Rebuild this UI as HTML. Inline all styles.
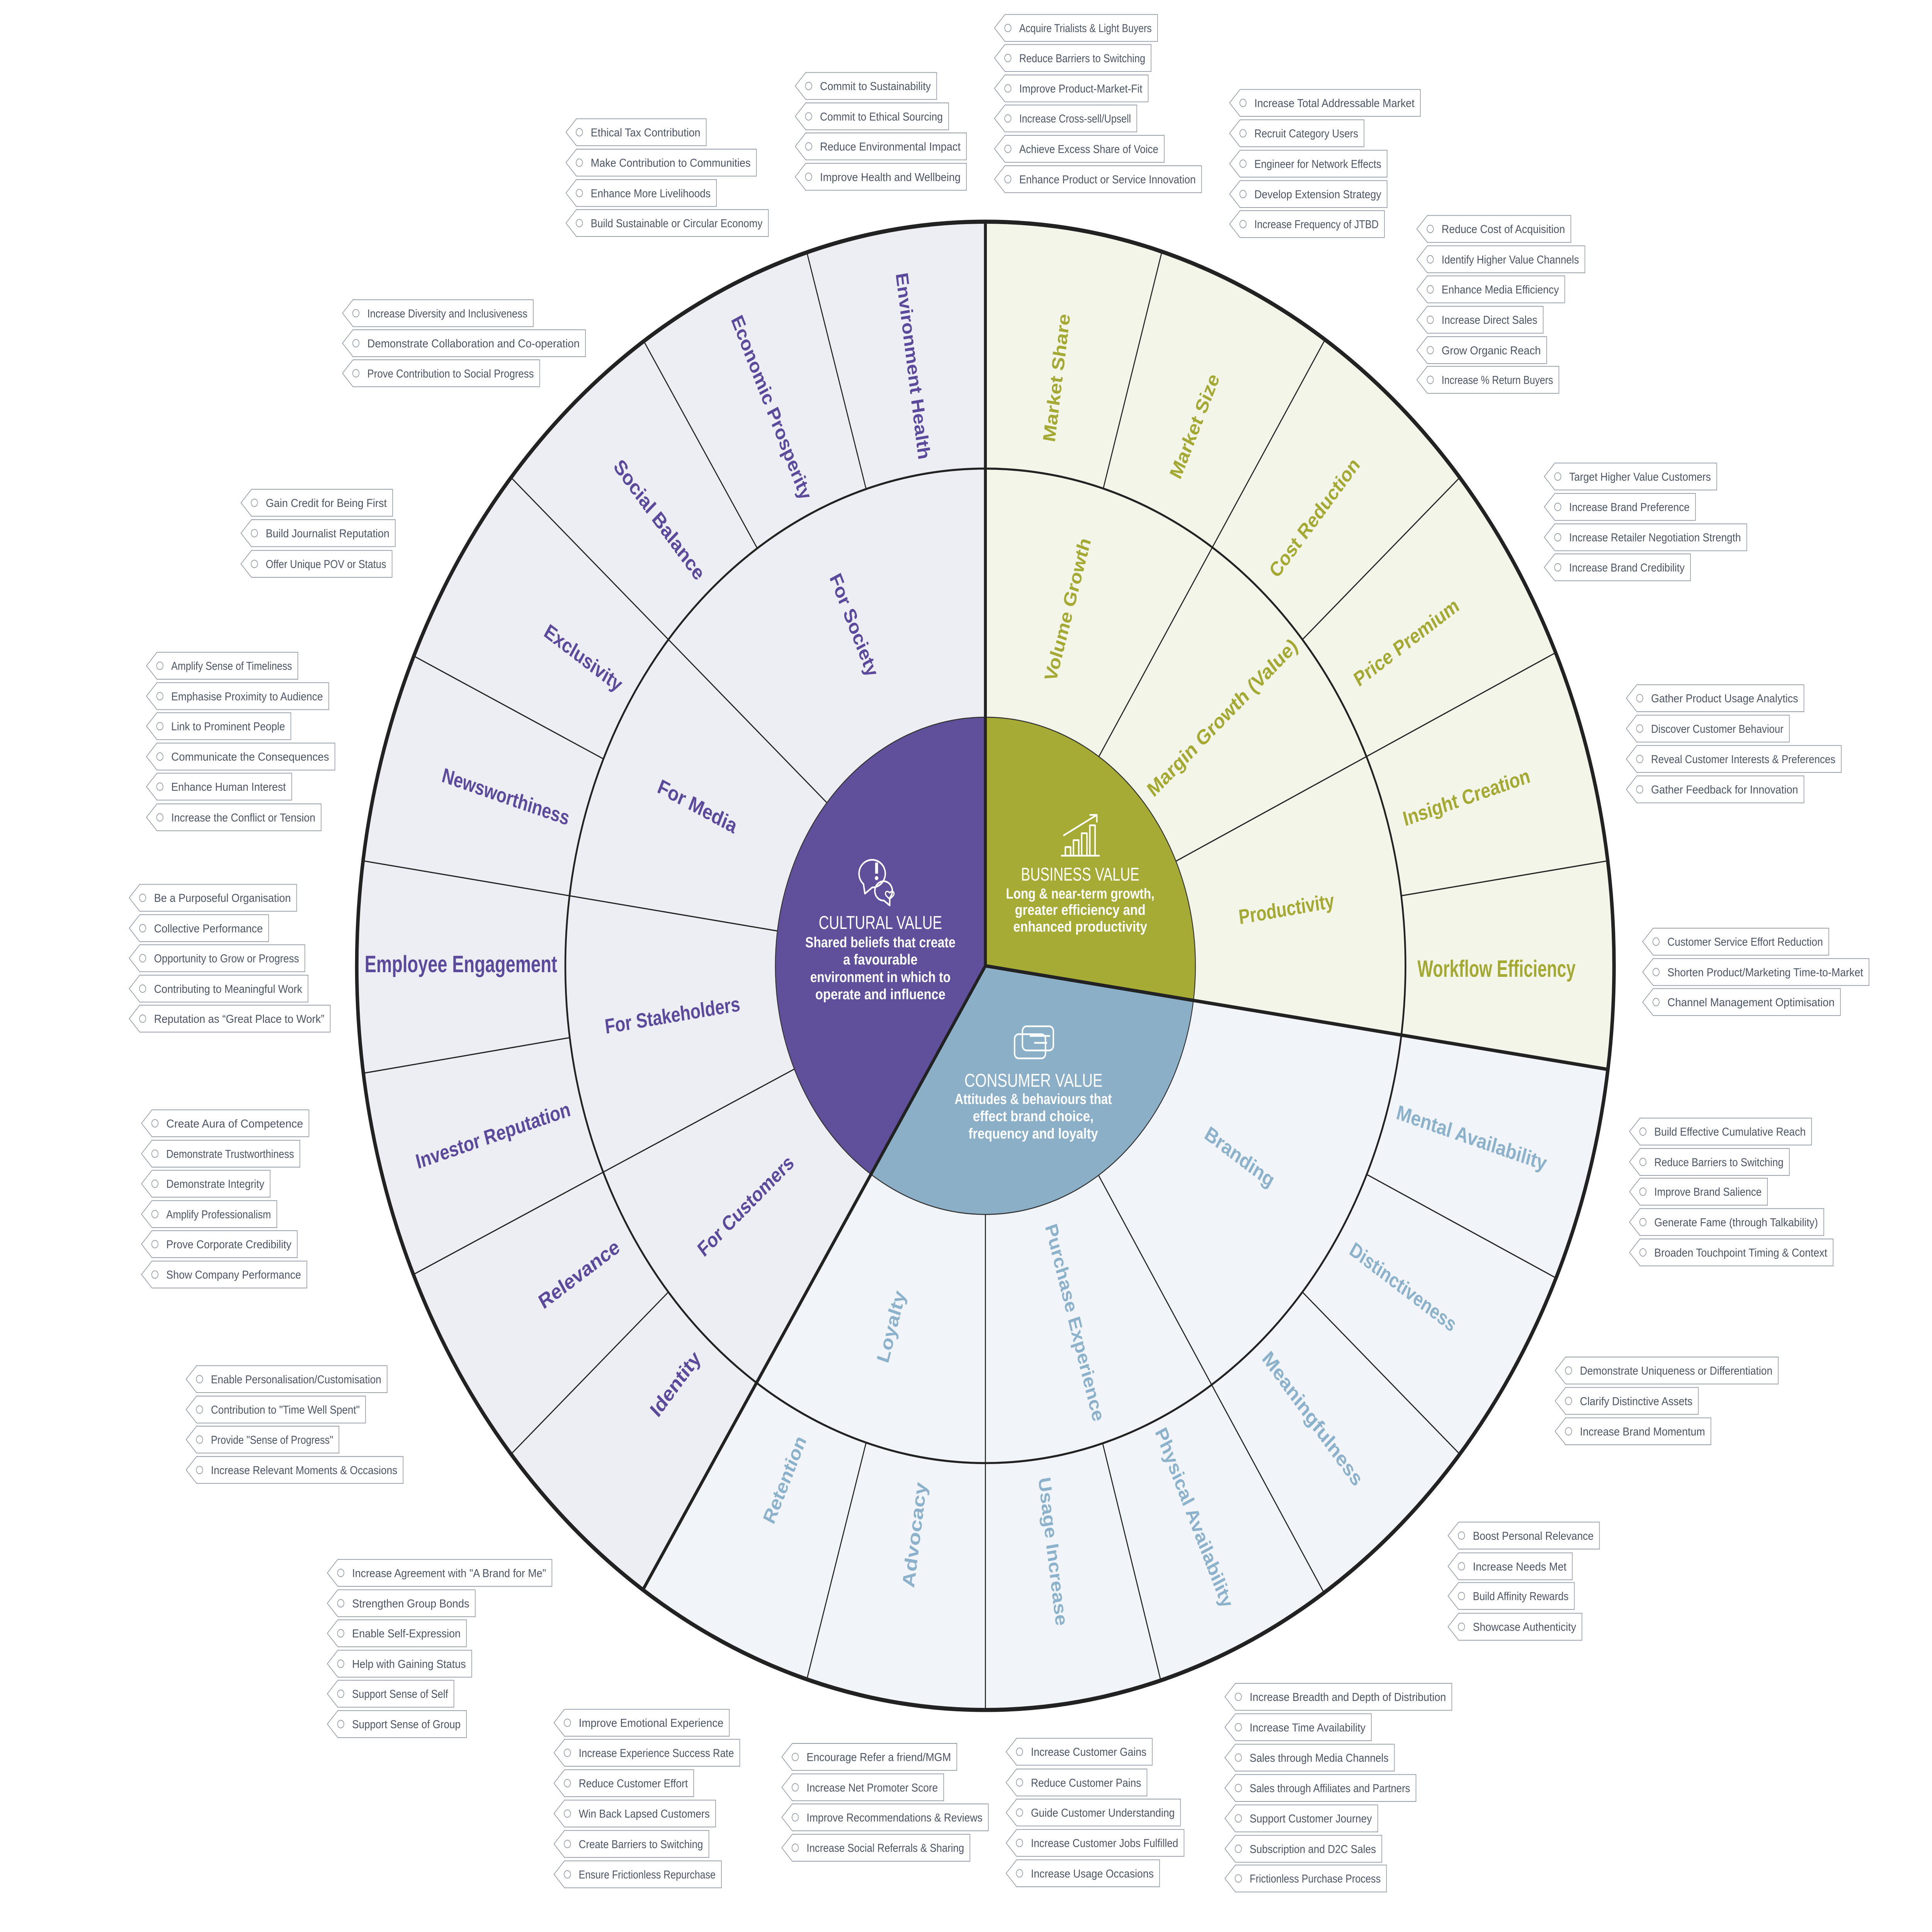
<!DOCTYPE html>
<html><head><meta charset="utf-8"><style>
html,body{margin:0;padding:0;background:#fff;overflow:hidden;width:100vw;height:100vh}
svg{display:block;position:fixed;left:0;top:0;width:100vw;height:100vh}
.t{font-family:"Liberation Sans",sans-serif;font-size:33px;fill:#4b5565}
.tg path{fill:#fff;stroke:#8a93a0;stroke-width:2}
.tg circle{fill:none;stroke:#8a93a0;stroke-width:2}
.w{font-family:"Liberation Sans",sans-serif;font-weight:bold;font-size:60px;text-anchor:middle;dominant-baseline:central}
.cu{fill:#5b4a9b}.bu{fill:#a3a932}.co{fill:#8cb1cb}
.c{font-family:"Liberation Sans",sans-serif;fill:#fff;text-anchor:middle}
</style></head><body>
<svg xmlns="http://www.w3.org/2000/svg" viewBox="0 0 6623 5595" preserveAspectRatio="none">
<path d="M3378 2797 L3378 642 A2155 2155 0 0 1 5512 3097 Z" fill="#f3f5e8"/>
<path d="M3378 2797 L5512 3097 A2155 2155 0 0 1 2204 4604 Z" fill="#f1f5f9"/>
<path d="M3378 2797 L2204 4604 A2155 2155 0 0 1 3378 642 Z" fill="#ededf4"/>
<circle cx="3378" cy="2797" r="1440" fill="none" stroke="#222" stroke-width="6"/>
<g stroke="#222" stroke-width="3.5">
<line x1="3767" y1="2191" x2="4542" y2="984"/>
<line x1="4031" y1="2494" x2="5333" y2="1890"/>
<line x1="3766" y1="3404" x2="4539" y2="4613"/>
<line x1="3378" y1="3517" x2="3378" y2="4952"/>
<line x1="2723" y1="3096" x2="1417" y2="3691"/>
<line x1="2665" y1="2696" x2="1245" y2="2493"/>
<line x1="2835" y1="2325" x2="1752" y2="1383"/>
<line x1="3782" y1="1415" x2="3983" y2="729"/>
<line x1="4465" y1="1852" x2="5004" y2="1383"/>
<line x1="4804" y1="2594" x2="5511" y2="2493"/>
<line x1="4685" y1="3401" x2="5334" y2="3701"/>
<line x1="4465" y1="3742" x2="5004" y2="4211"/>
<line x1="3780" y1="4180" x2="3979" y2="4866"/>
<line x1="2969" y1="4178" x2="2766" y2="4863"/>
<line x1="2291" y1="3742" x2="1752" y2="4211"/>
<line x1="1953" y1="3005" x2="1246" y2="3108"/>
<line x1="2069" y1="2198" x2="1419" y2="1900"/>
<line x1="2596" y1="1588" x2="2207" y2="988"/>
<line x1="2969" y1="1416" x2="2766" y2="731"/>
</g>
<path d="M3378 2797 L3378 2077 A720 720 0 0 1 4091 2897 Z" fill="#a5ab35"/>
<path d="M3378 2797 L4091 2897 A720 720 0 0 1 2986 3401 Z" fill="#8aafc7"/>
<path d="M3378 2797 L2986 3401 A720 720 0 0 1 3378 2077 Z" fill="#60509c"/>
<circle cx="3378" cy="2797" r="720" fill="none" stroke="#333" stroke-width="3"/>
<g stroke="#222" stroke-width="10" stroke-linecap="round">
<line x1="3378" y1="2797" x2="3378" y2="642"/>
<line x1="3378" y1="2797" x2="5512" y2="3097"/>
<line x1="3378" y1="2797" x2="2204" y2="4604"/>
</g>
<circle cx="3378" cy="2797" r="2155" fill="none" stroke="#222" stroke-width="12"/>

<g fill="none" stroke="#fff" stroke-width="5" stroke-linejoin="round">
<path d="M2960 2560 a45 40 0 1 1 30 10 l-25 18 z"/>
<path d="M3050 2600 a30 28 0 1 0 -20 8 l20 14 z"/>
<path d="M3050 2586 c-8 -10 -20 -2 -12 8 l12 10 l12 -10 c8 -10 -4 -18 -12 -8z" stroke-width="4"/>
<path d="M3637 2478 h133 M3652 2478 v-25 h18 v25 M3680 2478 v-45 h18 v45 M3708 2478 v-65 h18 v65 M3736 2478 v-88 h18 v88"/>
<path d="M3645 2420 L3760 2360 M3735 2360 h25 v22"/>
<rect x="3505" y="2972" width="106" height="70" rx="14"/>
<rect x="3478" y="2995" width="106" height="70" rx="14"/>
<line x1="3530" y1="3000" x2="3600" y2="3000"/>
<line x1="3545" y1="3020" x2="3590" y2="3020"/>
</g>
<rect x="3000" y="2498" width="10" height="32" fill="#fff"/><circle cx="3005" cy="2543" r="6" fill="#fff"/>

<text class="c" x="3018" y="2690" font-size="54" textLength="423" lengthAdjust="spacingAndGlyphs">CULTURAL VALUE</text>
<g class="c" font-size="42" font-weight="bold">
<text x="3018" y="2743" textLength="515" lengthAdjust="spacingAndGlyphs">Shared beliefs that create</text>
<text x="3018" y="2793" textLength="255" lengthAdjust="spacingAndGlyphs">a favourable</text>
<text x="3018" y="2844" textLength="481" lengthAdjust="spacingAndGlyphs">environment in which to</text>
<text x="3018" y="2894" textLength="446" lengthAdjust="spacingAndGlyphs">operate and influence</text>
</g>
<text class="c" x="3703" y="2550" font-size="54" textLength="406" lengthAdjust="spacingAndGlyphs">BUSINESS VALUE</text>
<g class="c" font-size="42" font-weight="bold">
<text x="3703" y="2602" textLength="509" lengthAdjust="spacingAndGlyphs">Long &amp; near-term growth,</text>
<text x="3703" y="2649" textLength="448" lengthAdjust="spacingAndGlyphs">greater efficiency and</text>
<text x="3703" y="2698" textLength="459" lengthAdjust="spacingAndGlyphs">enhanced productivity</text>
</g>
<text class="c" x="3543" y="3147" font-size="54" textLength="474" lengthAdjust="spacingAndGlyphs">CONSUMER VALUE</text>
<g class="c" font-size="42" font-weight="bold">
<text x="3542" y="3197" textLength="539" lengthAdjust="spacingAndGlyphs">Attitudes &amp; behaviours that</text>
<text x="3542" y="3247" textLength="414" lengthAdjust="spacingAndGlyphs">effect brand choice,</text>
<text x="3542" y="3297" textLength="444" lengthAdjust="spacingAndGlyphs">frequency and loyalty</text>
</g>

<g class="w bu">
<text transform="translate(3622 1094) rotate(-81.85)" textLength="374" lengthAdjust="spacingAndGlyphs">Market Share</text>
<text transform="translate(4095 1234) rotate(-65.35)" textLength="327" lengthAdjust="spacingAndGlyphs">Market Size</text>
<text transform="translate(4506 1499) rotate(-49)" textLength="436" lengthAdjust="spacingAndGlyphs">Cost Reduction</text>
<text transform="translate(4821 1860) rotate(-33)" textLength="415" lengthAdjust="spacingAndGlyphs">Price Premium</text>
<text transform="translate(5027 2309) rotate(-16.5)" textLength="451" lengthAdjust="spacingAndGlyphs">Insight Creation</text>
<text transform="translate(5130 2805)" font-size="68" textLength="542" lengthAdjust="spacingAndGlyphs">Workflow Efficiency</text>
<text transform="translate(3660 1765) rotate(-73.65)" textLength="429" lengthAdjust="spacingAndGlyphs">Volume Growth</text>
<text transform="translate(4190 2078) rotate(-41.1)" textLength="660" lengthAdjust="spacingAndGlyphs">Margin Growth (Value)</text>
<text transform="translate(4410 2632) rotate(-8.5)" textLength="330" lengthAdjust="spacingAndGlyphs">Productivity</text>
</g>
<g class="w co">
<text transform="translate(5045 3295) rotate(16.4)" textLength="534" lengthAdjust="spacingAndGlyphs">Mental Availability</text>
<text transform="translate(4810 3727) rotate(32.9)" textLength="422" lengthAdjust="spacingAndGlyphs">Distinctiveness</text>
<text transform="translate(4500 4108) rotate(49.2)" textLength="492" lengthAdjust="spacingAndGlyphs">Meaningfulness</text>
<text transform="translate(4094 4395) rotate(65.6)" textLength="565" lengthAdjust="spacingAndGlyphs">Physical Availability</text>
<text transform="translate(3610 4493) rotate(81.9)" textLength="433" lengthAdjust="spacingAndGlyphs">Usage Increase</text>
<text transform="translate(3135 4445) rotate(-81.75)" textLength="307" lengthAdjust="spacingAndGlyphs">Advocacy</text>
<text transform="translate(2690 4285) rotate(-65.25)" textLength="272" lengthAdjust="spacingAndGlyphs">Retention</text>
<text transform="translate(4250 3350) rotate(32.7)" textLength="271" lengthAdjust="spacingAndGlyphs">Branding</text>
<text transform="translate(3685 3830) rotate(73.7)" textLength="592" lengthAdjust="spacingAndGlyphs">Purchase Experience</text>
<text transform="translate(3055 3842) rotate(-73.5)" textLength="214" lengthAdjust="spacingAndGlyphs">Loyalty</text>
</g>
<g class="w cu">
<text transform="translate(2315 4008) rotate(-49)" textLength="228" lengthAdjust="spacingAndGlyphs">Identity</text>
<text transform="translate(1985 3690) rotate(-32.75)" textLength="316" lengthAdjust="spacingAndGlyphs">Relevance</text>
<text transform="translate(1690 3288) rotate(-16.4)" textLength="549" lengthAdjust="spacingAndGlyphs">Investor Reputation</text>
<text transform="translate(1580 2792)" font-size="68" textLength="660" lengthAdjust="spacingAndGlyphs">Employee Engagement</text>
<text transform="translate(1734 2307) rotate(16.35)" textLength="452" lengthAdjust="spacingAndGlyphs">Newsworthiness</text>
<text transform="translate(2000 1905) rotate(32.8)" textLength="305" lengthAdjust="spacingAndGlyphs">Exclusivity</text>
<text transform="translate(2260 1505) rotate(49)" textLength="440" lengthAdjust="spacingAndGlyphs">Social Balance</text>
<text transform="translate(2645 1180) rotate(65.3)" textLength="580" lengthAdjust="spacingAndGlyphs">Economic Prosperity</text>
<text transform="translate(3130 1060) rotate(81.75)" textLength="545" lengthAdjust="spacingAndGlyphs">Environment Health</text>
<text transform="translate(2928 1810) rotate(65.5)" textLength="321" lengthAdjust="spacingAndGlyphs">For Society</text>
<text transform="translate(2391 2335) rotate(24.55)" textLength="292" lengthAdjust="spacingAndGlyphs">For Media</text>
<text transform="translate(2305 2940) rotate(-8.2)" textLength="467" lengthAdjust="spacingAndGlyphs">For Stakeholders</text>
<text transform="translate(2556 3492) rotate(-40.75)" textLength="412" lengthAdjust="spacingAndGlyphs">For Customers</text>
</g>

<g class="tg">
<path d="M1940 383 l36 -39 H2421 v78 H1976 Z"/><circle cx="1986" cy="383" r="11"/><text class="t" x="2025" y="395" textLength="376" lengthAdjust="spacingAndGlyphs">Ethical Tax Contribution</text>
<path d="M1940 471 l36 -39 H2593 v78 H1976 Z"/><circle cx="1986" cy="471" r="11"/><text class="t" x="2025" y="483" textLength="548" lengthAdjust="spacingAndGlyphs">Make Contribution to Communities</text>
<path d="M1940 559 l36 -39 H2456 v78 H1976 Z"/><circle cx="1986" cy="559" r="11"/><text class="t" x="2025" y="571" textLength="411" lengthAdjust="spacingAndGlyphs">Enhance More Livelihoods</text>
<path d="M1940 646 l36 -39 H2634 v78 H1976 Z"/><circle cx="1986" cy="646" r="11"/><text class="t" x="2025" y="658" textLength="589" lengthAdjust="spacingAndGlyphs">Build Sustainable or Circular Economy</text>
<path d="M2726 249 l36 -39 H3211 v78 H2762 Z"/><circle cx="2772" cy="249" r="11"/><text class="t" x="2811" y="261" textLength="380" lengthAdjust="spacingAndGlyphs">Commit to Sustainability</text>
<path d="M2726 337 l36 -39 H3252 v78 H2762 Z"/><circle cx="2772" cy="337" r="11"/><text class="t" x="2811" y="349" textLength="421" lengthAdjust="spacingAndGlyphs">Commit to Ethical Sourcing</text>
<path d="M2726 424 l36 -39 H3313 v78 H2762 Z"/><circle cx="2772" cy="424" r="11"/><text class="t" x="2811" y="436" textLength="482" lengthAdjust="spacingAndGlyphs">Reduce Environmental Impact</text>
<path d="M2726 512 l36 -39 H3313 v78 H2762 Z"/><circle cx="2772" cy="512" r="11"/><text class="t" x="2811" y="524" textLength="482" lengthAdjust="spacingAndGlyphs">Improve Health and Wellbeing</text>
<path d="M3409 81 l36 -39 H3968 v78 H3445 Z"/><circle cx="3455" cy="81" r="11"/><text class="t" x="3494" y="93" textLength="454" lengthAdjust="spacingAndGlyphs">Acquire Trialists &amp; Light Buyers</text>
<path d="M3409 168 l36 -39 H3946 v78 H3445 Z"/><circle cx="3455" cy="168" r="11"/><text class="t" x="3494" y="180" textLength="432" lengthAdjust="spacingAndGlyphs">Reduce Barriers to Switching</text>
<path d="M3409 256 l36 -39 H3936 v78 H3445 Z"/><circle cx="3455" cy="256" r="11"/><text class="t" x="3494" y="268" textLength="422" lengthAdjust="spacingAndGlyphs">Improve Product-Market-Fit</text>
<path d="M3409 343 l36 -39 H3897 v78 H3445 Z"/><circle cx="3455" cy="343" r="11"/><text class="t" x="3494" y="355" textLength="383" lengthAdjust="spacingAndGlyphs">Increase Cross-sell/Upsell</text>
<path d="M3409 431 l36 -39 H3991 v78 H3445 Z"/><circle cx="3455" cy="431" r="11"/><text class="t" x="3494" y="443" textLength="477" lengthAdjust="spacingAndGlyphs">Achieve Excess Share of Voice</text>
<path d="M3409 519 l36 -39 H4119 v78 H3445 Z"/><circle cx="3455" cy="519" r="11"/><text class="t" x="3494" y="531" textLength="605" lengthAdjust="spacingAndGlyphs">Enhance Product or Service Innovation</text>
<path d="M1174 907 l36 -39 H1828 v78 H1210 Z"/><circle cx="1220" cy="907" r="11"/><text class="t" x="1259" y="919" textLength="549" lengthAdjust="spacingAndGlyphs">Increase Diversity and Inclusiveness</text>
<path d="M1174 994 l36 -39 H2007 v78 H1210 Z"/><circle cx="1220" cy="994" r="11"/><text class="t" x="1259" y="1006" textLength="728" lengthAdjust="spacingAndGlyphs">Demonstrate Collaboration and Co-operation</text>
<path d="M1174 1081 l36 -39 H1850 v78 H1210 Z"/><circle cx="1220" cy="1081" r="11"/><text class="t" x="1259" y="1093" textLength="571" lengthAdjust="spacingAndGlyphs">Prove Contribution to Social Progress</text>
<path d="M4215 298 l36 -39 H4869 v78 H4251 Z"/><circle cx="4261" cy="298" r="11"/><text class="t" x="4300" y="310" textLength="549" lengthAdjust="spacingAndGlyphs">Increase Total Addressable Market</text>
<path d="M4215 386 l36 -39 H4676 v78 H4251 Z"/><circle cx="4261" cy="386" r="11"/><text class="t" x="4300" y="398" textLength="356" lengthAdjust="spacingAndGlyphs">Recruit Category Users</text>
<path d="M4215 474 l36 -39 H4755 v78 H4251 Z"/><circle cx="4261" cy="474" r="11"/><text class="t" x="4300" y="486" textLength="435" lengthAdjust="spacingAndGlyphs">Engineer for Network Effects</text>
<path d="M4215 562 l36 -39 H4755 v78 H4251 Z"/><circle cx="4261" cy="562" r="11"/><text class="t" x="4300" y="574" textLength="435" lengthAdjust="spacingAndGlyphs">Develop Extension Strategy</text>
<path d="M4215 649 l36 -39 H4746 v78 H4251 Z"/><circle cx="4261" cy="649" r="11"/><text class="t" x="4300" y="661" textLength="426" lengthAdjust="spacingAndGlyphs">Increase Frequency of JTBD</text>
<path d="M4857 663 l36 -39 H5385 v78 H4893 Z"/><circle cx="4903" cy="663" r="11"/><text class="t" x="4942" y="675" textLength="423" lengthAdjust="spacingAndGlyphs">Reduce Cost of Acquisition</text>
<path d="M4857 751 l36 -39 H5433 v78 H4893 Z"/><circle cx="4903" cy="751" r="11"/><text class="t" x="4942" y="763" textLength="471" lengthAdjust="spacingAndGlyphs">Identify Higher Value Channels</text>
<path d="M4857 838 l36 -39 H5364 v78 H4893 Z"/><circle cx="4903" cy="838" r="11"/><text class="t" x="4942" y="850" textLength="402" lengthAdjust="spacingAndGlyphs">Enhance Media Efficiency</text>
<path d="M4857 926 l36 -39 H5290 v78 H4893 Z"/><circle cx="4903" cy="926" r="11"/><text class="t" x="4942" y="938" textLength="328" lengthAdjust="spacingAndGlyphs">Increase Direct Sales</text>
<path d="M4857 1014 l36 -39 H5302 v78 H4893 Z"/><circle cx="4903" cy="1014" r="11"/><text class="t" x="4942" y="1026" textLength="340" lengthAdjust="spacingAndGlyphs">Grow Organic Reach</text>
<path d="M4857 1100 l36 -39 H5344 v78 H4893 Z"/><circle cx="4903" cy="1100" r="11"/><text class="t" x="4942" y="1112" textLength="382" lengthAdjust="spacingAndGlyphs">Increase % Return Buyers</text>
<path d="M5294 1380 l36 -39 H5885 v78 H5330 Z"/><circle cx="5340" cy="1380" r="11"/><text class="t" x="5379" y="1392" textLength="486" lengthAdjust="spacingAndGlyphs">Target Higher Value Customers</text>
<path d="M5294 1468 l36 -39 H5812 v78 H5330 Z"/><circle cx="5340" cy="1468" r="11"/><text class="t" x="5379" y="1480" textLength="413" lengthAdjust="spacingAndGlyphs">Increase Brand Preference</text>
<path d="M5294 1556 l36 -39 H5988 v78 H5330 Z"/><circle cx="5340" cy="1556" r="11"/><text class="t" x="5379" y="1568" textLength="589" lengthAdjust="spacingAndGlyphs">Increase Retailer Negotiation Strength</text>
<path d="M5294 1643 l36 -39 H5795 v78 H5330 Z"/><circle cx="5340" cy="1643" r="11"/><text class="t" x="5379" y="1655" textLength="396" lengthAdjust="spacingAndGlyphs">Increase Brand Credibility</text>
<path d="M5575 2022 l36 -39 H6184 v78 H5611 Z"/><circle cx="5621" cy="2022" r="11"/><text class="t" x="5660" y="2034" textLength="504" lengthAdjust="spacingAndGlyphs">Gather Product Usage Analytics</text>
<path d="M5575 2110 l36 -39 H6134 v78 H5611 Z"/><circle cx="5621" cy="2110" r="11"/><text class="t" x="5660" y="2122" textLength="454" lengthAdjust="spacingAndGlyphs">Discover Customer Behaviour</text>
<path d="M5575 2198 l36 -39 H6312 v78 H5611 Z"/><circle cx="5621" cy="2198" r="11"/><text class="t" x="5660" y="2210" textLength="632" lengthAdjust="spacingAndGlyphs">Reveal Customer Interests &amp; Preferences</text>
<path d="M5575 2286 l36 -39 H6184 v78 H5611 Z"/><circle cx="5621" cy="2286" r="11"/><text class="t" x="5660" y="2298" textLength="504" lengthAdjust="spacingAndGlyphs">Gather Feedback for Innovation</text>
<path d="M5631 2727 l36 -39 H6269 v78 H5667 Z"/><circle cx="5677" cy="2727" r="11"/><text class="t" x="5716" y="2739" textLength="533" lengthAdjust="spacingAndGlyphs">Customer Service Effort Reduction</text>
<path d="M5631 2815 l36 -39 H6407 v78 H5667 Z"/><circle cx="5677" cy="2815" r="11"/><text class="t" x="5716" y="2827" textLength="671" lengthAdjust="spacingAndGlyphs">Shorten Product/Marketing Time-to-Market</text>
<path d="M5631 2902 l36 -39 H6309 v78 H5667 Z"/><circle cx="5677" cy="2902" r="11"/><text class="t" x="5716" y="2914" textLength="573" lengthAdjust="spacingAndGlyphs">Channel Management Optimisation</text>
<path d="M5586 3277 l36 -39 H6210 v78 H5622 Z"/><circle cx="5632" cy="3277" r="11"/><text class="t" x="5671" y="3289" textLength="519" lengthAdjust="spacingAndGlyphs">Build Effective Cumulative Reach</text>
<path d="M5586 3365 l36 -39 H6134 v78 H5622 Z"/><circle cx="5632" cy="3365" r="11"/><text class="t" x="5671" y="3377" textLength="443" lengthAdjust="spacingAndGlyphs">Reduce Barriers to Switching</text>
<path d="M5586 3451 l36 -39 H6059 v78 H5622 Z"/><circle cx="5632" cy="3451" r="11"/><text class="t" x="5671" y="3463" textLength="368" lengthAdjust="spacingAndGlyphs">Improve Brand Salience</text>
<path d="M5586 3539 l36 -39 H6252 v78 H5622 Z"/><circle cx="5632" cy="3539" r="11"/><text class="t" x="5671" y="3551" textLength="561" lengthAdjust="spacingAndGlyphs">Generate Fame (through Talkability)</text>
<path d="M5586 3627 l36 -39 H6284 v78 H5622 Z"/><circle cx="5632" cy="3627" r="11"/><text class="t" x="5671" y="3639" textLength="593" lengthAdjust="spacingAndGlyphs">Broaden Touchpoint Timing &amp; Context</text>
<path d="M5331 3969 l36 -39 H6096 v78 H5367 Z"/><circle cx="5377" cy="3969" r="11"/><text class="t" x="5416" y="3981" textLength="660" lengthAdjust="spacingAndGlyphs">Demonstrate Uniqueness or Differentiation</text>
<path d="M5331 4057 l36 -39 H5822 v78 H5367 Z"/><circle cx="5377" cy="4057" r="11"/><text class="t" x="5416" y="4069" textLength="386" lengthAdjust="spacingAndGlyphs">Clarify Distinctive Assets</text>
<path d="M5331 4145 l36 -39 H5865 v78 H5367 Z"/><circle cx="5377" cy="4145" r="11"/><text class="t" x="5416" y="4157" textLength="429" lengthAdjust="spacingAndGlyphs">Increase Brand Momentum</text>
<path d="M4964 4447 l36 -39 H5483 v78 H5000 Z"/><circle cx="5010" cy="4447" r="11"/><text class="t" x="5049" y="4459" textLength="414" lengthAdjust="spacingAndGlyphs">Boost Personal Relevance</text>
<path d="M4964 4536 l36 -39 H5390 v78 H5000 Z"/><circle cx="5010" cy="4536" r="11"/><text class="t" x="5049" y="4548" textLength="321" lengthAdjust="spacingAndGlyphs">Increase Needs Met</text>
<path d="M4964 4622 l36 -39 H5397 v78 H5000 Z"/><circle cx="5010" cy="4622" r="11"/><text class="t" x="5049" y="4634" textLength="328" lengthAdjust="spacingAndGlyphs">Build Affinity Rewards</text>
<path d="M4964 4711 l36 -39 H5423 v78 H5000 Z"/><circle cx="5010" cy="4711" r="11"/><text class="t" x="5049" y="4723" textLength="354" lengthAdjust="spacingAndGlyphs">Showcase Authenticity</text>
<path d="M4199 4914 l36 -39 H4977 v78 H4235 Z"/><circle cx="4245" cy="4914" r="11"/><text class="t" x="4284" y="4926" textLength="673" lengthAdjust="spacingAndGlyphs">Increase Breadth and Depth of Distribution</text>
<path d="M4199 5002 l36 -39 H4701 v78 H4235 Z"/><circle cx="4245" cy="5002" r="11"/><text class="t" x="4284" y="5014" textLength="397" lengthAdjust="spacingAndGlyphs">Increase Time Availability</text>
<path d="M4199 5090 l36 -39 H4780 v78 H4235 Z"/><circle cx="4245" cy="5090" r="11"/><text class="t" x="4284" y="5102" textLength="476" lengthAdjust="spacingAndGlyphs">Sales through Media Channels</text>
<path d="M4199 5178 l36 -39 H4854 v78 H4235 Z"/><circle cx="4245" cy="5178" r="11"/><text class="t" x="4284" y="5190" textLength="550" lengthAdjust="spacingAndGlyphs">Sales through Affiliates and Partners</text>
<path d="M4199 5266 l36 -39 H4723 v78 H4235 Z"/><circle cx="4245" cy="5266" r="11"/><text class="t" x="4284" y="5278" textLength="419" lengthAdjust="spacingAndGlyphs">Support Customer Journey</text>
<path d="M4199 5354 l36 -39 H4737 v78 H4235 Z"/><circle cx="4245" cy="5354" r="11"/><text class="t" x="4284" y="5366" textLength="433" lengthAdjust="spacingAndGlyphs">Subscription and D2C Sales</text>
<path d="M4199 5440 l36 -39 H4753 v78 H4235 Z"/><circle cx="4245" cy="5440" r="11"/><text class="t" x="4284" y="5452" textLength="449" lengthAdjust="spacingAndGlyphs">Frictionless Purchase Process</text>
<path d="M3449 5073 l36 -39 H3950 v78 H3485 Z"/><circle cx="3495" cy="5073" r="11"/><text class="t" x="3534" y="5085" textLength="396" lengthAdjust="spacingAndGlyphs">Increase Customer Gains</text>
<path d="M3449 5162 l36 -39 H3932 v78 H3485 Z"/><circle cx="3495" cy="5162" r="11"/><text class="t" x="3534" y="5174" textLength="378" lengthAdjust="spacingAndGlyphs">Reduce Customer Pains</text>
<path d="M3449 5249 l36 -39 H4047 v78 H3485 Z"/><circle cx="3495" cy="5249" r="11"/><text class="t" x="3534" y="5261" textLength="493" lengthAdjust="spacingAndGlyphs">Guide Customer Understanding</text>
<path d="M3449 5337 l36 -39 H4059 v78 H3485 Z"/><circle cx="3495" cy="5337" r="11"/><text class="t" x="3534" y="5349" textLength="505" lengthAdjust="spacingAndGlyphs">Increase Customer Jobs Fulfilled</text>
<path d="M3449 5425 l36 -39 H3975 v78 H3485 Z"/><circle cx="3495" cy="5425" r="11"/><text class="t" x="3534" y="5437" textLength="421" lengthAdjust="spacingAndGlyphs">Increase Usage Occasions</text>
<path d="M2680 5088 l36 -39 H3280 v78 H2716 Z"/><circle cx="2726" cy="5088" r="11"/><text class="t" x="2765" y="5100" textLength="495" lengthAdjust="spacingAndGlyphs">Encourage Refer a friend/MGM</text>
<path d="M2680 5176 l36 -39 H3235 v78 H2716 Z"/><circle cx="2726" cy="5176" r="11"/><text class="t" x="2765" y="5188" textLength="450" lengthAdjust="spacingAndGlyphs">Increase Net Promoter Score</text>
<path d="M2680 5263 l36 -39 H3388 v78 H2716 Z"/><circle cx="2726" cy="5263" r="11"/><text class="t" x="2765" y="5275" textLength="603" lengthAdjust="spacingAndGlyphs">Improve Recommendations &amp; Reviews</text>
<path d="M2680 5351 l36 -39 H3325 v78 H2716 Z"/><circle cx="2726" cy="5351" r="11"/><text class="t" x="2765" y="5363" textLength="540" lengthAdjust="spacingAndGlyphs">Increase Social Referrals &amp; Sharing</text>
<path d="M1899 4989 l36 -39 H2500 v78 H1935 Z"/><circle cx="1945" cy="4989" r="11"/><text class="t" x="1984" y="5001" textLength="496" lengthAdjust="spacingAndGlyphs">Improve Emotional Experience</text>
<path d="M1899 5076 l36 -39 H2536 v78 H1935 Z"/><circle cx="1945" cy="5076" r="11"/><text class="t" x="1984" y="5088" textLength="532" lengthAdjust="spacingAndGlyphs">Increase Experience Success Rate</text>
<path d="M1899 5164 l36 -39 H2378 v78 H1935 Z"/><circle cx="1945" cy="5164" r="11"/><text class="t" x="1984" y="5176" textLength="374" lengthAdjust="spacingAndGlyphs">Reduce Customer Effort</text>
<path d="M1899 5252 l36 -39 H2453 v78 H1935 Z"/><circle cx="1945" cy="5252" r="11"/><text class="t" x="1984" y="5264" textLength="449" lengthAdjust="spacingAndGlyphs">Win Back Lapsed Customers</text>
<path d="M1899 5340 l36 -39 H2430 v78 H1935 Z"/><circle cx="1945" cy="5340" r="11"/><text class="t" x="1984" y="5352" textLength="426" lengthAdjust="spacingAndGlyphs">Create Barriers to Switching</text>
<path d="M1899 5428 l36 -39 H2473 v78 H1935 Z"/><circle cx="1945" cy="5428" r="11"/><text class="t" x="1984" y="5440" textLength="469" lengthAdjust="spacingAndGlyphs">Ensure Frictionless Repurchase</text>
<path d="M1122 4555 l36 -39 H1892 v78 H1158 Z"/><circle cx="1168" cy="4555" r="11"/><text class="t" x="1207" y="4567" textLength="665" lengthAdjust="spacingAndGlyphs">Increase Agreement with "A Brand for Me"</text>
<path d="M1122 4643 l36 -39 H1629 v78 H1158 Z"/><circle cx="1168" cy="4643" r="11"/><text class="t" x="1207" y="4655" textLength="402" lengthAdjust="spacingAndGlyphs">Strengthen Group Bonds</text>
<path d="M1122 4730 l36 -39 H1599 v78 H1158 Z"/><circle cx="1168" cy="4730" r="11"/><text class="t" x="1207" y="4742" textLength="372" lengthAdjust="spacingAndGlyphs">Enable Self-Expression</text>
<path d="M1122 4818 l36 -39 H1617 v78 H1158 Z"/><circle cx="1168" cy="4818" r="11"/><text class="t" x="1207" y="4830" textLength="390" lengthAdjust="spacingAndGlyphs">Help with Gaining Status</text>
<path d="M1122 4905 l36 -39 H1556 v78 H1158 Z"/><circle cx="1168" cy="4905" r="11"/><text class="t" x="1207" y="4917" textLength="329" lengthAdjust="spacingAndGlyphs">Support Sense of Self</text>
<path d="M1122 4993 l36 -39 H1599 v78 H1158 Z"/><circle cx="1168" cy="4993" r="11"/><text class="t" x="1207" y="5005" textLength="372" lengthAdjust="spacingAndGlyphs">Support Sense of Group</text>
<path d="M638 3994 l36 -39 H1327 v78 H674 Z"/><circle cx="684" cy="3994" r="11"/><text class="t" x="723" y="4006" textLength="584" lengthAdjust="spacingAndGlyphs">Enable Personalisation/Customisation</text>
<path d="M638 4082 l36 -39 H1253 v78 H674 Z"/><circle cx="684" cy="4082" r="11"/><text class="t" x="723" y="4094" textLength="510" lengthAdjust="spacingAndGlyphs">Contribution to "Time Well Spent"</text>
<path d="M638 4169 l36 -39 H1162 v78 H674 Z"/><circle cx="684" cy="4169" r="11"/><text class="t" x="723" y="4181" textLength="419" lengthAdjust="spacingAndGlyphs">Provide "Sense of Progress"</text>
<path d="M638 4257 l36 -39 H1382 v78 H674 Z"/><circle cx="684" cy="4257" r="11"/><text class="t" x="723" y="4269" textLength="639" lengthAdjust="spacingAndGlyphs">Increase Relevant Moments &amp; Occasions</text>
<path d="M485 3253 l36 -39 H1059 v78 H521 Z"/><circle cx="531" cy="3253" r="11"/><text class="t" x="570" y="3265" textLength="469" lengthAdjust="spacingAndGlyphs">Create Aura of Competence</text>
<path d="M485 3341 l36 -39 H1028 v78 H521 Z"/><circle cx="531" cy="3341" r="11"/><text class="t" x="570" y="3353" textLength="438" lengthAdjust="spacingAndGlyphs">Demonstrate Trustworthiness</text>
<path d="M485 3428 l36 -39 H926 v78 H521 Z"/><circle cx="531" cy="3428" r="11"/><text class="t" x="570" y="3440" textLength="336" lengthAdjust="spacingAndGlyphs">Demonstrate Integrity</text>
<path d="M485 3516 l36 -39 H949 v78 H521 Z"/><circle cx="531" cy="3516" r="11"/><text class="t" x="570" y="3528" textLength="359" lengthAdjust="spacingAndGlyphs">Amplify Professionalism</text>
<path d="M485 3603 l36 -39 H1019 v78 H521 Z"/><circle cx="531" cy="3603" r="11"/><text class="t" x="570" y="3615" textLength="429" lengthAdjust="spacingAndGlyphs">Prove Corporate Credibility</text>
<path d="M485 3691 l36 -39 H1052 v78 H521 Z"/><circle cx="531" cy="3691" r="11"/><text class="t" x="570" y="3703" textLength="462" lengthAdjust="spacingAndGlyphs">Show Company Performance</text>
<path d="M443 2600 l36 -39 H1017 v78 H479 Z"/><circle cx="489" cy="2600" r="11"/><text class="t" x="528" y="2612" textLength="469" lengthAdjust="spacingAndGlyphs">Be a Purposeful Organisation</text>
<path d="M443 2688 l36 -39 H921 v78 H479 Z"/><circle cx="489" cy="2688" r="11"/><text class="t" x="528" y="2700" textLength="373" lengthAdjust="spacingAndGlyphs">Collective Performance</text>
<path d="M443 2775 l36 -39 H1045 v78 H479 Z"/><circle cx="489" cy="2775" r="11"/><text class="t" x="528" y="2787" textLength="497" lengthAdjust="spacingAndGlyphs">Opportunity to Grow or Progress</text>
<path d="M443 2863 l36 -39 H1056 v78 H479 Z"/><circle cx="489" cy="2863" r="11"/><text class="t" x="528" y="2875" textLength="508" lengthAdjust="spacingAndGlyphs">Contributing to Meaningful Work</text>
<path d="M443 2950 l36 -39 H1132 v78 H479 Z"/><circle cx="489" cy="2950" r="11"/><text class="t" x="528" y="2962" textLength="584" lengthAdjust="spacingAndGlyphs">Reputation as “Great Place to Work”</text>
<path d="M502 1928 l36 -39 H1021 v78 H538 Z"/><circle cx="548" cy="1928" r="11"/><text class="t" x="587" y="1940" textLength="414" lengthAdjust="spacingAndGlyphs">Amplify Sense of Timeliness</text>
<path d="M502 2016 l36 -39 H1127 v78 H538 Z"/><circle cx="548" cy="2016" r="11"/><text class="t" x="587" y="2028" textLength="520" lengthAdjust="spacingAndGlyphs">Emphasise Proximity to Audience</text>
<path d="M502 2103 l36 -39 H997 v78 H538 Z"/><circle cx="548" cy="2103" r="11"/><text class="t" x="587" y="2115" textLength="390" lengthAdjust="spacingAndGlyphs">Link to Prominent People</text>
<path d="M502 2191 l36 -39 H1148 v78 H538 Z"/><circle cx="548" cy="2191" r="11"/><text class="t" x="587" y="2203" textLength="541" lengthAdjust="spacingAndGlyphs">Communicate the Consequences</text>
<path d="M502 2278 l36 -39 H1000 v78 H538 Z"/><circle cx="548" cy="2278" r="11"/><text class="t" x="587" y="2290" textLength="393" lengthAdjust="spacingAndGlyphs">Enhance Human Interest</text>
<path d="M502 2367 l36 -39 H1101 v78 H538 Z"/><circle cx="548" cy="2367" r="11"/><text class="t" x="587" y="2379" textLength="494" lengthAdjust="spacingAndGlyphs">Increase the Conflict or Tension</text>
<path d="M826 1456 l36 -39 H1346 v78 H862 Z"/><circle cx="872" cy="1456" r="11"/><text class="t" x="911" y="1468" textLength="415" lengthAdjust="spacingAndGlyphs">Gain Credit for Being First</text>
<path d="M826 1544 l36 -39 H1355 v78 H862 Z"/><circle cx="872" cy="1544" r="11"/><text class="t" x="911" y="1556" textLength="424" lengthAdjust="spacingAndGlyphs">Build Journalist Reputation</text>
<path d="M826 1633 l36 -39 H1344 v78 H862 Z"/><circle cx="872" cy="1633" r="11"/><text class="t" x="911" y="1645" textLength="413" lengthAdjust="spacingAndGlyphs">Offer Unique POV or Status</text>
</g>
</svg>
</body></html>
